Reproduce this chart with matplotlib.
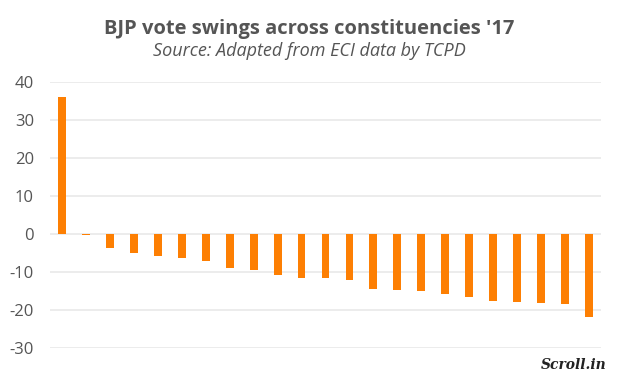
import numpy as np
import matplotlib.pyplot as plt

# Vote swing per constituency (percentage points), sorted
swings = [36.0, -0.3, -3.7, -5.0, -5.8, -6.3, -7.1, -8.9, -9.5, -10.8, -11.6,
          -11.6, -12.1, -14.5, -14.7, -15.0, -15.8, -16.6, -17.6, -17.9,
          -18.2, -18.4, -21.8]
y_ticks = [-30, -20, -10, 0, 10, 20, 30, 40]

title = "BJP vote swings across constituencies '17"
subtitle = "Source: Adapted from ECI data by TCPD"

W, H = 619, 380
fig = plt.figure(figsize=(W / 100, H / 100), dpi=100)
ax = fig.add_axes([50 / W, 1 - 347.7 / H, 551 / W, (347.7 - 81.7) / H])

x = np.arange(len(swings))
ax.bar(x, swings, width=0.33, color="#fd7f03", zorder=3)

ax.set_xlim(-0.5, len(swings) - 0.5)
ax.set_ylim(-30, 40)
ax.set_yticks(y_ticks)
ax.set_yticklabels([str(t) for t in y_ticks], fontfamily="Open Sans")
ax.set_xticks([])
ax.yaxis.grid(True, color="#ebebeb", linewidth=1.3, zorder=0)
for s in ax.spines.values():
    s.set_visible(False)
ax.tick_params(axis="y", length=0, pad=11.5, labelsize=12, labelcolor="#555555")

fig.text(0.5, 1 - 29 / H, title, ha="center", va="center",
         fontsize=14.5, fontweight="bold", color="#555555", family="Open Sans")
fig.text(0.5, 1 - 51 / H, subtitle, ha="center", va="center",
         fontsize=13, style="italic", color="#555555", family="Open Sans")
fig.text(607 / W, 1 - 365 / H, "Scroll.in", ha="right", va="center",
         fontsize=10, style="italic", fontweight="bold", color="#222222",
         family="DejaVu Serif")

fig.savefig("out.png", dpi=100)
